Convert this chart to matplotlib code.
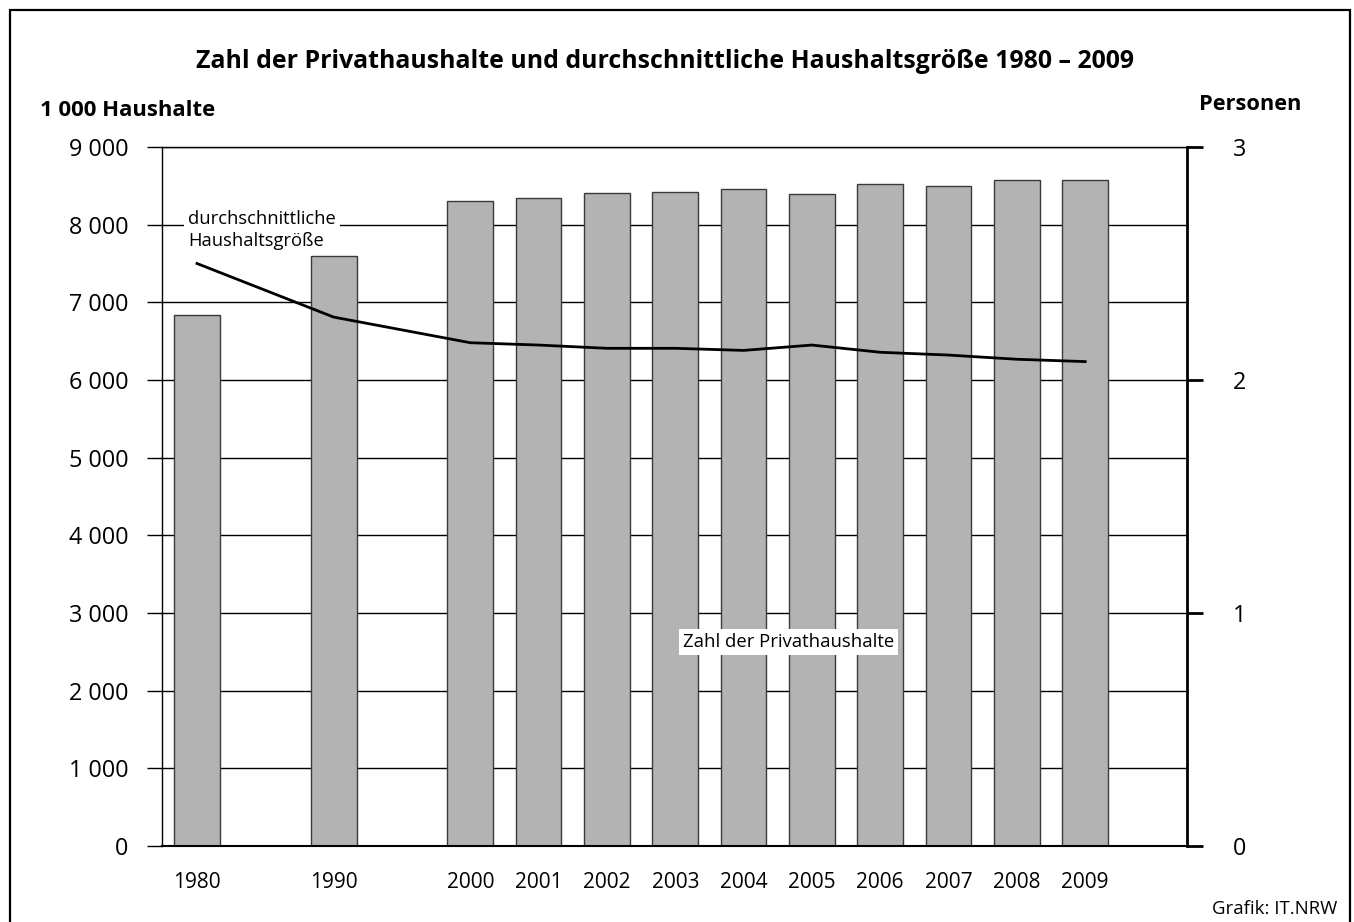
import matplotlib
matplotlib.use("Agg")
import matplotlib.pyplot as plt
from matplotlib.patches import Rectangle

# Zahl der Privathaushalte (1 000) und durchschnittliche Haushaltsgroesse (Personen)
years = ["1980", "1990", "2000", "2001", "2002", "2003", "2004",
         "2005", "2006", "2007", "2008", "2009"]
households = [6840, 7600, 8310, 8340, 8410, 8420, 8455, 8390, 8520, 8500, 8580, 8580]
persons = [2.50, 2.27, 2.16, 2.15, 2.136, 2.136, 2.127, 2.15, 2.119, 2.107, 2.089, 2.079]

# gaps between 1980, 1990 and 2000 are one empty slot each
slots = [0, 2] + list(range(4, 14))

plt.rcParams['font.family'] = ['Open Sans', 'DejaVu Sans']

W, H = 1354, 922
fig = plt.figure(figsize=(W / 100, H / 100), dpi=100)

def px(x, y):
    return x / W, 1 - y / H

# outer frame
fig.patches.append(Rectangle((10 / W, -0.02), 1340 / W, 1.02 - 10 / H,
                             transform=fig.transFigure, fill=False,
                             edgecolor='black', linewidth=1.6))

ax = fig.add_axes([162 / W, 76 / H, 1025 / W, 699 / H])
ax.set_xlim(-0.512, 14.49)
ax.set_ylim(0, 9000)
ax.bar(slots, households, width=0.67, color='#b3b3b3', edgecolor='#3a3a3a',
       linewidth=1, zorder=2)

ax.set_yticks(range(0, 9001, 1000))
ax.set_yticklabels([f"{v:,}".replace(",", " ") for v in range(0, 9001, 1000)])
ax.yaxis.grid(True, color='black', linewidth=1)
ax.set_axisbelow(True)
ax.tick_params(axis='y', length=10.8, width=1, pad=13.5, labelsize=16.8)
ax.set_xticks(slots)
ax.set_xticklabels(years)
ax.tick_params(axis='x', length=0, pad=19, labelsize=15)
ax.spines['right'].set_visible(False)
ax.spines['top'].set_linewidth(1)
ax.spines['left'].set_linewidth(1)
ax.spines['bottom'].set_linewidth(1.5)

ax2 = ax.twinx()
ax2.set_ylim(0, 3)
ax2.set_yticks([0, 1, 2, 3])
ax2.plot(slots, persons, color='black', linewidth=2, zorder=3)
ax2.tick_params(axis='y', length=11.5, width=2, pad=21.5, labelsize=16.8)
for side in ['top', 'left', 'bottom']:
    ax2.spines[side].set_visible(False)
ax2.spines['right'].set_linewidth(2)

# texts
fig.text(*px(665, 62), "Zahl der Privathaushalte und durchschnittliche Haushaltsgröße 1980 – 2009",
         ha='center', va='center', fontsize=17.9, fontweight='bold')
fig.text(*px(40, 110), "1 000 Haushalte", ha='left', va='center',
         fontsize=15.9, fontweight='bold')
fig.text(*px(1250, 104), "Personen", ha='center', va='center',
         fontsize=15.7, fontweight='bold')
fig.text(*px(188, 230), "durchschnittliche\nHaushaltsgröße", ha='left', va='center',
         fontsize=13.2, linespacing=1.35,
         bbox=dict(facecolor='white', edgecolor='none', pad=3))
fig.text(*px(683, 642), "Zahl der Privathaushalte", ha='left', va='center',
         fontsize=13.3, bbox=dict(facecolor='white', edgecolor='none', pad=3))
fig.text(*px(1337, 909), "Grafik: IT.NRW", ha='right', va='center', fontsize=13.4)

fig.savefig("out.png", dpi=100)
